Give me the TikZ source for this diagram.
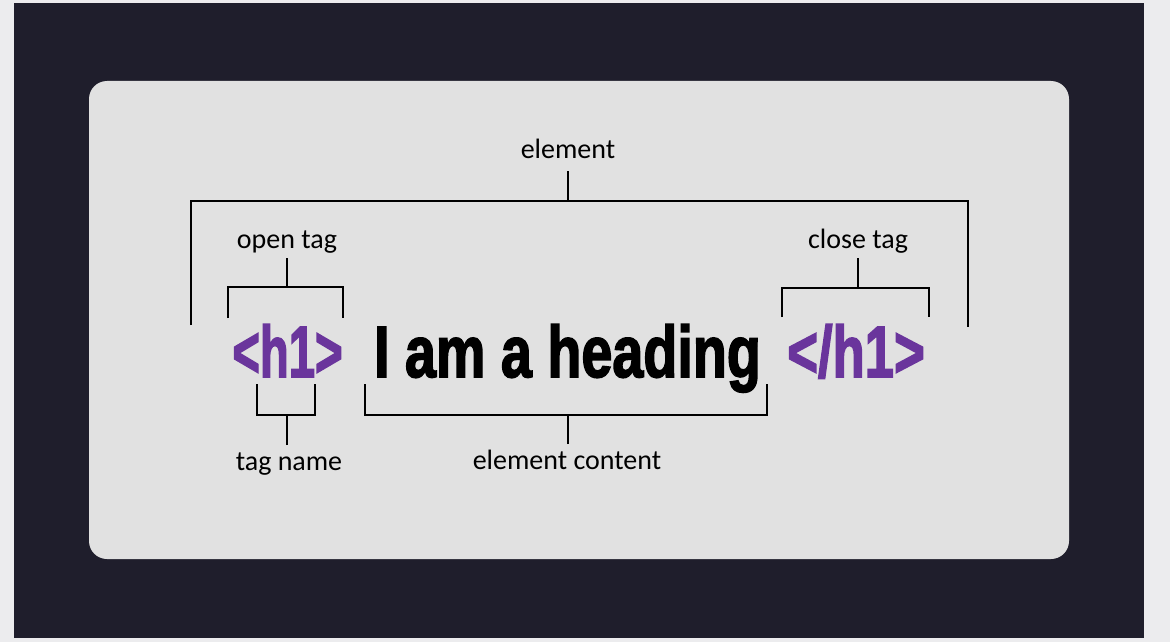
\documentclass[tikz,border=0pt]{standalone}
\usepackage{fontspec}
\usepackage{graphicx}
\setmainfont{Carlito}
\newfontfamily\headfont{Liberation Sans}[BoldFeatures={FakeBold=2.5}]
\definecolor{outerbg}{HTML}{ECECEE}
\definecolor{darkbg}{HTML}{1F1E2C}
\definecolor{cardbg}{HTML}{E1E1E1}
\definecolor{tagpurple}{HTML}{6A359C}
\tikzset{
  lbl/.style={anchor=base, inner sep=0pt, font=\fontsize{28}{32}\selectfont, text=black},
  big/.style={anchor=base, inner sep=0pt},
  brk/.style={draw=black, line width=2.8pt, line cap=butt, line join=miter},
}
\newcommand{\bigtxt}[2]{\scalebox{#1}[1]{\fontsize{72.6}{80}\headfont\bfseries #2}}
\begin{document}
\begin{tikzpicture}[x=1pt,y=-1pt]
\useasboundingbox (0,0) rectangle (1170,642);
\fill[outerbg] (0,0) rectangle (1170,642);
\fill[darkbg] (14,3) rectangle (1144,638);
\fill[cardbg, rounded corners=18pt] (89,81) rectangle (1069,559);

% texts
\node[big, text=tagpurple] (open) at (287.5,377) {\bigtxt{0.65}{<h1>}};
\node[big, text=black] (head) at (567.5,377) {\bigtxt{0.767}{I am a heading}};
\node[big, text=tagpurple] (close) at (856,377) {\bigtxt{0.725}{</h1>}};

\node[lbl] (lelem) at (568,158) {element};
\node[lbl] (lopen) at (287,248) {open tag};
\node[lbl] (lclose) at (858,248) {close tag};
\node[lbl] (lname) at (289,470) {tag name};
\node[lbl] (lcont) at (567,469) {element content};

% coordinates for brackets
\coordinate (eS) at (568,171);
\coordinate (oS) at (287,258);
\coordinate (cS) at (858,258);
\coordinate (nS) at (287,445);
\coordinate (tS) at (568,444);

% element bracket
\draw[brk] (191,325) -- (191,201) -- (968,201) -- (968,327);
\draw[brk] (eS) -- (568,201);
% open tag bracket
\draw[brk] (228,318) -- (228,287) -- (343,287) -- (343,318);
\draw[brk] (oS) -- (287,287);
% close tag bracket
\draw[brk] (782,317) -- (782,288) -- (929,288) -- (929,317);
\draw[brk] (cS) -- (858,288);
% tag name bracket
\draw[brk] (257,384) -- (257,415) -- (315,415) -- (315,384);
\draw[brk] (nS) -- (287,415);
% element content bracket
\draw[brk] (365,384) -- (365,415) -- (767,415) -- (767,384);
\draw[brk] (tS) -- (568,415);
\end{tikzpicture}
\end{document}
